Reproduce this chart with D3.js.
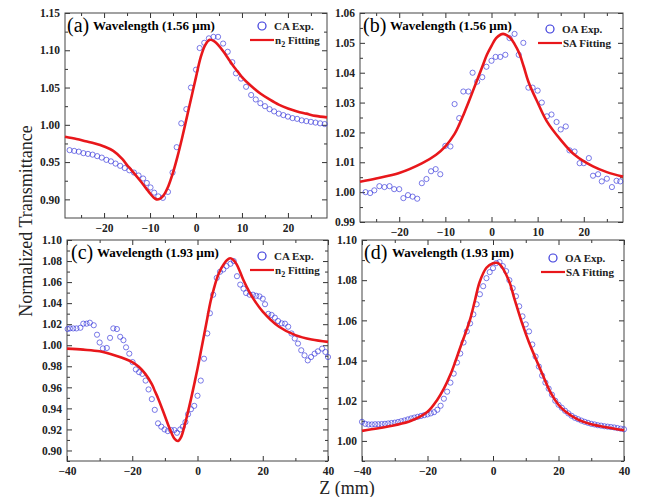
<!DOCTYPE html>
<html>
<head>
<meta charset="utf-8">
<script src="https://cdn.jsdelivr.net/npm/d3@7"></script>
<style>
  body { margin: 0; background: #fff; }
  svg { display: block; }
  svg text { font-family: "Liberation Serif", "Times New Roman", Times, serif; }
</style>
</head>
<body>
<div id="chart"></div>
<script>
// ---- data ----
// (a) 1.56 um closed aperture
var aExpZ = [-27.5,-26.5,-25.5,-24.5,-23.5,-22.5,-21.5,-20.5,-19.5,-18.5,-17.5,-16.5,-15.5,-14.5,-13.5,-12.5,-11.5,-10.7,-9.9,-9.1,-8.2,-7.2,-6.1,-5.1,-4.2,-3.2,-2.1,-1.1,0,0.8,1.8,2.8,3.8,4.8,5.9,6.9,7.9,8.7,9.8,10.9,12,13,14,15,16,17,18,19,20,21,22,23,24,25,26,27,28];
var aExpT = [0.966,0.965,0.964,0.962,0.961,0.960,0.958,0.956,0.953,0.951,0.948,0.945,0.942,0.939,0.936,0.932,0.928,0.922,0.916,0.909,0.904,0.902,0.910,0.936,0.970,1.002,1.021,1.050,1.074,1.103,1.110,1.116,1.118,1.118,1.109,1.098,1.084,1.069,1.062,1.051,1.040,1.034,1.029,1.025,1.021,1.018,1.015,1.013,1.011,1.009,1.008,1.006,1.005,1.004,1.003,1.002,1.001];
var aFitZ = [-28.5,-26,-24,-22,-20,-18,-16,-15,-14,-12,-10.5,-10,-9.3,-8.6,-7.8,-7,-6,-5,-4,-3,-2,-1,0,1,2,3,4,5,6,7,8,9,10,12,14,16,18,20,22,24,26,28.5];
var aFitT = [0.984,0.981,0.978,0.975,0.971,0.965,0.954,0.946,0.939,0.924,0.912,0.908,0.903,0.900,0.901,0.906,0.918,0.936,0.958,0.983,1.010,1.037,1.064,1.090,1.107,1.114,1.112,1.106,1.098,1.089,1.080,1.072,1.064,1.052,1.042,1.034,1.027,1.022,1.018,1.015,1.012,1.010];

// (b) 1.56 um open aperture
var bExpZ = [-27.3,-26.3,-25.4,-24.3,-23.2,-22.1,-21.1,-20,-19.1,-18.1,-17.1,-16.1,-15.1,-14.1,-13.1,-12.1,-11.1,-10,-8.9,-8,-7,-6.1,-5,-4.1,-3.1,-2,-1.1,0,0.9,1.9,3,3.9,5,5.9,6.9,8,8.9,10,10.9,12,13,14.1,15,16.1,16.9,18,19.1,20,21.1,22,23.1,23.9,25,26.1,27.1,27.9];
var bExpT = [1.0000,0.9997,1.0006,1.0020,1.0017,1.0020,1.0010,1.0010,0.9980,0.9990,0.9985,0.9978,1.0030,1.0044,1.0070,1.0077,1.0060,1.0155,1.0153,1.0295,1.0248,1.0337,1.0337,1.0400,1.0370,1.0385,1.0420,1.0440,1.0453,1.0453,1.0460,1.0516,1.0530,1.0460,1.0500,1.0350,1.0350,1.0340,1.0300,1.0254,1.0260,1.0235,1.0210,1.0220,1.0140,1.0136,1.0097,1.0097,1.0114,1.0055,1.0060,1.0036,1.0045,1.0017,1.0038,1.0036];
var bFitZ = [-28.5,-25,-20,-15,-12,-10,-8,-7,-6,-5,-4,-3,-2,-1,0,1,2,2.5,3,4,5,6,7,8,10,12,15,18,22,25,28.5];
var bFitT = [1.0035,1.0046,1.0064,1.0097,1.0125,1.0153,1.0195,1.0226,1.0262,1.0300,1.0340,1.0380,1.0420,1.0460,1.0490,1.0516,1.0528,1.0530,1.0528,1.0518,1.0496,1.0466,1.0420,1.0370,1.0300,1.0237,1.0175,1.0125,1.0086,1.0067,1.0052];

// (c) 1.93 um closed aperture
var cExpZ = [-39.8,-39.1,-38.1,-37.1,-35.9,-35,-34,-33,-31.8,-30.8,-30,-29,-27.8,-26.8,-25.8,-24.7,-23.7,-22.7,-21.9,-20.9,-19.9,-18.9,-17.9,-16.9,-15.9,-15,-14,-13.1,-12.1,-11.1,-10.1,-9.1,-8.1,-7.1,-6.3,-5.3,-4.5,-3.7,-2.9,-2,-1,0,1,2,3,3.8,4.8,5.9,6.9,7.9,8.9,10.1,11.1,12.1,13.1,14.1,14.9,16,17,18,19,20,20.7,21.7,22.7,23.7,24.7,25.8,26.8,27.8,28.8,29.8,30.8,31.8,32.8,33.8,34.8,35.9,36.9,38.2,39.2,40];
var cExpT = [1.0154,1.0160,1.0160,1.0160,1.0166,1.0205,1.0205,1.0214,1.0190,1.0100,1.0026,0.9970,0.9974,1.0070,1.0160,1.0154,1.0080,1.0048,0.9980,0.9920,0.9840,0.9770,0.9744,0.9728,0.9664,0.9580,0.9488,0.9386,0.9258,0.9226,0.9200,0.9184,0.9194,0.9194,0.9168,0.9200,0.9226,0.9270,0.9344,0.9392,0.9424,0.9520,0.9664,0.9872,1.0112,1.0304,1.0480,1.0640,1.0698,1.0720,1.0752,1.0774,1.0800,1.0656,1.0576,1.0538,1.0496,1.0480,1.0480,1.0470,1.0464,1.0442,1.0390,1.0298,1.0288,1.0262,1.0230,1.0208,1.0205,1.0176,1.0112,1.0064,1.0016,0.9952,0.9904,0.9856,0.9888,0.9920,0.9942,0.9968,0.9936,0.9888];
var cFitZ = [-40,-35,-30,-25,-20,-18,-16,-14,-13,-12,-10,-9,-8,-7,-6,-5,-4,-3,-2,-1,0,1,2,3,4,5,6,7,8,9,10,11,12,13,14,15,17,20,25,30,35,40];
var cFitT = [0.9968,0.9958,0.9942,0.9900,0.9840,0.9795,0.9728,0.9630,0.9560,0.9490,0.9328,0.9245,0.9168,0.9110,0.9090,0.9130,0.9232,0.9355,0.9488,0.9630,0.9776,0.9935,1.0096,1.0256,1.0416,1.0535,1.0640,1.0715,1.0768,1.0808,1.0826,1.0810,1.0768,1.0700,1.0624,1.0560,1.0448,1.0320,1.0176,1.0096,1.0054,1.0032];

// (d) 1.93 um open aperture
var dExpZ = [-40,-39,-38,-37,-36,-35,-34,-33,-32,-31,-30,-29,-28,-27,-26,-25,-24,-23,-22,-21,-20,-19,-18,-17,-16,-15,-14,-13,-12,-11,-10,-9,-8,-7,-6,-5,-4,-3,-2,-1,0,1,2,3,4,5,6,7,8,9,10,11,12,13,14,15,16,17,18,19,20,21,22,23,24,25,26,27,28,29,30,31,32,33,34,35,36,37,38,39,40];
var dExpT = [1.0095,1.0085,1.0082,1.0082,1.0083,1.0083,1.0084,1.0085,1.0087,1.0089,1.0091,1.0094,1.0098,1.0102,1.0107,1.0112,1.0116,1.0120,1.0124,1.0128,1.0132,1.0137,1.0143,1.0155,1.0175,1.0210,1.0245,1.0290,1.0335,1.0390,1.0435,1.0490,1.0545,1.0585,1.0630,1.0680,1.0730,1.0770,1.0810,1.0840,1.0860,1.0885,1.0890,1.0870,1.0845,1.0800,1.0760,1.0720,1.0670,1.0620,1.0580,1.0545,1.0480,1.0420,1.0370,1.0325,1.0290,1.0260,1.0230,1.0200,1.0180,1.0165,1.0150,1.0137,1.0125,1.0115,1.0108,1.0101,1.0095,1.0090,1.0085,1.0082,1.0078,1.0076,1.0073,1.0071,1.0069,1.0067,1.0064,1.0061,1.0058];
var dFitZ = [-40,-35,-30,-25,-20,-17,-15,-13,-11.5,-10,-8,-6.9,-5.5,-4.1,-2,0,1,2,4.8,6.5,8.9,11,13.3,15,17.6,20,22,26,30,35,40];
var dFitT = [1.0050,1.0063,1.0078,1.0100,1.0145,1.0205,1.0260,1.0330,1.0395,1.0465,1.0555,1.0610,1.0700,1.0790,1.0862,1.0884,1.0887,1.0880,1.0800,1.0710,1.0585,1.0490,1.0400,1.0335,1.0240,1.0180,1.0148,1.0106,1.0083,1.0067,1.0053];

// ticks
var abXTicks = [-20,-10,0,10,20], abXMinor = [-25,-15,-5,5,15,25];
var cdXTicks = [-40,-20,0,20,40], cdXMinor = [-30,-10,10,30];
var aYTicks = [0.90,0.95,1.00,1.05,1.10,1.15], aYMinor = [0.925,0.975,1.025,1.075,1.125];
var bYTicks = [0.99,1.00,1.01,1.02,1.03,1.04,1.05,1.06], bYMinor = [0.995,1.005,1.015,1.025,1.035,1.045,1.055];
var cYTicks = [0.90,0.92,0.94,0.96,0.98,1.00,1.02,1.04,1.06,1.08,1.10], cYMinor = [0.89,0.91,0.93,0.95,0.97,0.99,1.01,1.03,1.05,1.07,1.09];
var dYTicks = [1.00,1.02,1.04,1.06,1.08,1.10], dYMinor = [0.99,1.01,1.03,1.05,1.07,1.09];

var width = 653, height = 497;
var red = "#e8171b", blue = "#3c3cdc";

var svg = d3.select("#chart").append("svg")
    .attr("width", width)
    .attr("height", height);

function zip(zs, ts) {
  return zs.map(function(z, i) { return [z, ts[i]]; });
}

var panels = [
  {box: [65, 327, 13, 218], xd: [-28.5, 28.5], yd: [0.875, 1.15], xt: abXTicks, xm: abXMinor, yt: aYTicks, ym: aYMinor,
   exp: zip(aExpZ, aExpT), fit: zip(aFitZ, aFitT), tag: "(a)", tagX: 67, titleX: 93, wl: "1.56",
   legX: 262, legY: 26, expName: "CA Exp.", fitName: "n2"},
  {box: [360, 623, 13, 222], xd: [-28.5, 28.5], yd: [0.99, 1.06], xt: abXTicks, xm: abXMinor, yt: bYTicks, ym: bYMinor,
   exp: zip(bExpZ, bExpT), fit: zip(bFitZ, bFitT), tag: "(b)", tagX: 363, titleX: 390, wl: "1.56",
   legX: 550, legY: 29, expName: "OA Exp.", fitName: "SA"},
  {box: [67, 328, 240, 461], xd: [-40, 40], yd: [0.89, 1.10], xt: cdXTicks, xm: cdXMinor, yt: cYTicks, ym: cYMinor,
   exp: zip(cExpZ, cExpT), fit: zip(cFitZ, cFitT), tag: "(c)", tagX: 71, titleX: 97, wl: "1.93",
   legX: 262, legY: 256, expName: "CA Exp.", fitName: "n2"},
  {box: [362, 624, 240, 461], xd: [-40, 40], yd: [0.99, 1.10], xt: cdXTicks, xm: cdXMinor, yt: dYTicks, ym: dYMinor,
   exp: zip(dExpZ, dExpT), fit: zip(dFitZ, dFitT), tag: "(d)", tagX: 364, titleX: 392, wl: "1.93",
   legX: 553, legY: 258, expName: "OA Exp.", fitName: "SA"}
];

panels.forEach(drawPanel);

function styleAxis(g) {
  g.select(".domain").remove();
  g.selectAll(".tick line").attr("stroke", "#333").attr("stroke-width", 1);
  g.selectAll("text")
      .attr("font-weight", "bold")
      .attr("font-size", 11.5)
      .attr("fill", "#222");
}

function drawPanel(p) {
  var x = d3.scaleLinear().domain(p.xd).range([p.box[0], p.box[1]]);
  var y = d3.scaleLinear().domain(p.yd).range([p.box[3], p.box[2]]);
  var g = svg.append("g");

  // axes, ticks inward on all four sides
  var fmt = d3.format(".2f");
  g.append("g").attr("transform", "translate(" + p.box[0] + ",0)")
      .call(d3.axisLeft(y).tickValues(p.yt).tickSize(-5).tickSizeOuter(0).tickPadding(5).tickFormat(fmt))
      .call(styleAxis);
  g.append("g").attr("transform", "translate(" + p.box[0] + ",0)")
      .call(d3.axisLeft(y).tickValues(p.ym).tickSize(-3).tickSizeOuter(0).tickFormat(""))
      .call(styleAxis);
  g.append("g").attr("transform", "translate(" + p.box[1] + ",0)")
      .call(d3.axisRight(y).tickValues(p.yt).tickSize(-5).tickSizeOuter(0).tickFormat(""))
      .call(styleAxis);
  g.append("g").attr("transform", "translate(" + p.box[1] + ",0)")
      .call(d3.axisRight(y).tickValues(p.ym).tickSize(-3).tickSizeOuter(0).tickFormat(""))
      .call(styleAxis);
  g.append("g").attr("transform", "translate(0," + p.box[3] + ")")
      .call(d3.axisBottom(x).tickValues(p.xt).tickSize(-5).tickSizeOuter(0).tickPadding(6).tickFormat(d3.format("d")))
      .call(styleAxis);
  g.append("g").attr("transform", "translate(0," + p.box[3] + ")")
      .call(d3.axisBottom(x).tickValues(p.xm).tickSize(-3).tickSizeOuter(0).tickFormat(""))
      .call(styleAxis);
  g.append("g").attr("transform", "translate(0," + p.box[2] + ")")
      .call(d3.axisTop(x).tickValues(p.xt).tickSize(-5).tickSizeOuter(0).tickFormat(""))
      .call(styleAxis);
  g.append("g").attr("transform", "translate(0," + p.box[2] + ")")
      .call(d3.axisTop(x).tickValues(p.xm).tickSize(-3).tickSizeOuter(0).tickFormat(""))
      .call(styleAxis);

  g.append("rect")
      .attr("x", p.box[0]).attr("y", p.box[2])
      .attr("width", p.box[1] - p.box[0]).attr("height", p.box[3] - p.box[2])
      .attr("fill", "none").attr("stroke", "#444").attr("stroke-width", 1);

  // experimental points
  g.append("g").selectAll("circle")
      .data(p.exp)
      .enter().append("circle")
      .attr("cx", function(d) { return x(d[0]); })
      .attr("cy", function(d) { return y(d[1]); })
      .attr("r", 2.6)
      .attr("fill", "none")
      .attr("stroke", blue)
      .attr("stroke-width", 0.8)
      .attr("opacity", 0.85);

  // fitting curve
  var line = d3.line()
      .x(function(d) { return x(d[0]); })
      .y(function(d) { return y(d[1]); })
      .curve(d3.curveCatmullRom.alpha(0.5));
  g.append("path")
      .datum(p.fit)
      .attr("d", line)
      .attr("fill", "none")
      .attr("stroke", red)
      .attr("stroke-width", 2.6);

  // panel label and title
  var baseY = p.box[2] + 19;
  g.append("text")
      .attr("x", p.tagX).attr("y", baseY)
      .attr("font-size", 20)
      .text(p.tag);
  g.append("text")
      .attr("x", p.titleX).attr("y", baseY - 2)
      .attr("font-size", 13).attr("font-weight", "bold")
      .text("Wavelength (" + p.wl + " \u03bcm)");

  // legend
  g.append("circle")
      .attr("cx", p.legX).attr("cy", p.legY).attr("r", 4)
      .attr("fill", "none").attr("stroke", blue).attr("stroke-width", 1.2);
  g.append("text")
      .attr("x", p.legX + 12).attr("y", p.legY + 4)
      .attr("font-size", 11).attr("font-weight", "bold")
      .attr("fill", "#222")
      .text(p.expName);
  g.append("line")
      .attr("x1", p.legX - 12).attr("x2", p.legX + 12)
      .attr("y1", p.legY + 14).attr("y2", p.legY + 14)
      .attr("stroke", red).attr("stroke-width", 2.2);
  var ft = g.append("text")
      .attr("x", p.legX + 13).attr("y", p.legY + 18)
      .attr("font-size", 11).attr("font-weight", "bold")
      .attr("fill", "#222");
  if (p.fitName === "n2") {
    ft.append("tspan").text("n");
    ft.append("tspan").attr("dy", 3).attr("font-size", 8).text("2");
    ft.append("tspan").attr("dy", -3).text(" Fitting");
  } else {
    ft.text(p.fitName + " Fitting");
  }
}

// shared axis titles
svg.append("text")
    .attr("transform", "translate(32,221) rotate(-90)")
    .attr("text-anchor", "middle")
    .attr("font-size", 18)
    .attr("fill", "#222")
    .text("Normalized Transmittance");

svg.append("text")
    .attr("x", 347).attr("y", 494)
    .attr("text-anchor", "middle")
    .attr("font-size", 18)
    .attr("fill", "#222")
    .text("Z (mm)");
</script>
</body>
</html>
